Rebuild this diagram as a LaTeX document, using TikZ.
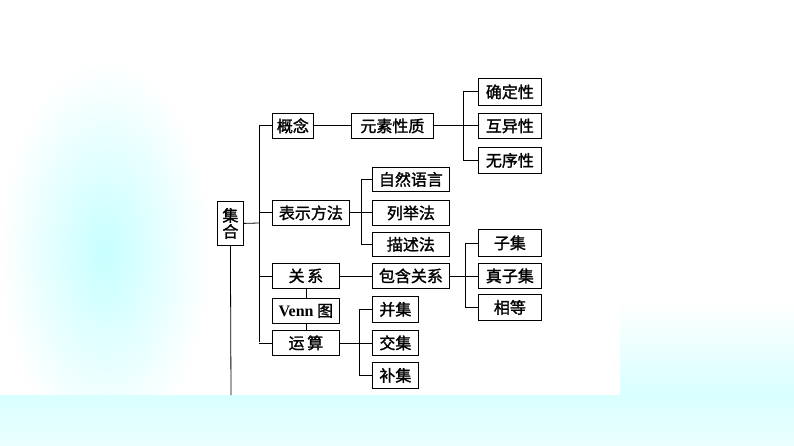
\documentclass[tikz,border=0pt]{standalone}
\usepackage{fontspec}
\setmainfont{Liberation Serif}
\newfontfamily\cjk[FakeBold=1.5]{Noto Sans CJK SC}
\tikzset{
    box/.style = {draw=black, thick, fill=white, inner sep=0pt, anchor=north west, font=\cjk\fontsize{16}{16}\selectfont},
    wire/.style = {draw=black, thick}
}
\newcommand{\bx}[6]{\node[box, minimum width=#4pt, minimum height=#5pt] (#1) at (#2,#3) {#6};}

\begin{document}
\begin{tikzpicture}[x=1pt,y=-1pt]
    \useasboundingbox (0,0) rectangle (794,446);
    % background
    \fill[white] (0,0) rectangle (794,446);
    \shade[inner color=cyan!22, outer color=white] (0,60) rectangle (210,446);
    \shade[top color=white, bottom color=cyan!15] (210,300) rectangle (794,395);
    \shade[top color=cyan!15, bottom color=cyan!8] (0,395) rectangle (794,446);
    \fill[white] (210,60) rectangle (620,395);

    % level 0
    \node[box, minimum width=26pt, minimum height=44pt, align=center] (jihe) at (217,201) {集\\合};
    \coordinate (jiheend) at (231,395);
    % level 1
    \bx{gainian}{272}{113}{41}{25}{概念}
    \bx{biaoshi}{272}{200}{77}{25}{表示方法}
    \bx{guanxi}{272}{263}{67}{25}{关\,系}
    \bx{venn}{272}{298}{67}{25}{{\rmfamily\bfseries Venn} 图}
    \bx{yunsuan}{272}{330}{67}{25}{运\,算}
    % level 2
    \bx{yuansu}{351}{113}{82}{25}{元素性质}
    \bx{ziran}{372}{167}{77}{24}{自然语言}
    \bx{liju}{372}{200}{77}{25}{列举法}
    \bx{miaoshu}{372}{232}{77}{24}{描述法}
    \bx{baohan}{372}{263}{77}{25}{包含关系}
    \bx{bing}{372}{296}{46}{26}{并集}
    \bx{jiao}{372}{330}{46}{25}{交集}
    \bx{bu}{372}{362}{46}{26}{补集}
    % level 3
    \bx{queding}{478}{78}{63}{27}{确定性}
    \bx{huyi}{478}{113}{63}{25}{互异性}
    \bx{wuxu}{478}{147}{63}{26}{无序性}
    \bx{ziji}{478}{229}{63}{27}{子集}
    \bx{zhenzi}{478}{263}{63}{25}{真子集}
    \bx{xiangdeng}{478}{294}{63}{26}{相等}

    % connectors
    \draw[wire] (jihe.south) -- (jiheend);
    \draw[wire] (jihe.east) -- (259,223);
    \draw[wire] (259,125) -- (259,342);
    \foreach \n in {gainian,biaoshi,guanxi,yunsuan}
        \draw[wire] (\n.west) -- (259,0 |- \n.west);
    \draw[wire] (guanxi) -- (venn) -- (yunsuan);
    \draw[wire] (gainian) -- (yuansu);
    \draw[wire] (yuansu.east) -- (huyi.west);
    \draw[wire] (463,0 |- queding.west) -- (463,0 |- wuxu.west);
    \foreach \n in {queding,wuxu}
        \draw[wire] (\n.west) -- (463,0 |- \n.west);
    \draw[wire] (biaoshi.east) -- (liju.west);
    \draw[wire] (361,0 |- ziran.west) -- (361,0 |- miaoshu.west);
    \foreach \n in {ziran,miaoshu}
        \draw[wire] (\n.west) -- (361,0 |- \n.west);
    \draw[wire] (guanxi) -- (baohan);
    \draw[wire] (baohan.east) -- (zhenzi.west);
    \draw[wire] (465,0 |- ziji.west) -- (465,0 |- xiangdeng.west);
    \foreach \n in {ziji,xiangdeng}
        \draw[wire] (\n.west) -- (465,0 |- \n.west);
    \draw[wire] (yunsuan.east) -- (jiao.west);
    \draw[wire] (359,0 |- bing.west) -- (359,0 |- bu.west);
    \foreach \n in {bing,bu}
        \draw[wire] (\n.west) -- (359,0 |- \n.west);
\end{tikzpicture}
\end{document}
